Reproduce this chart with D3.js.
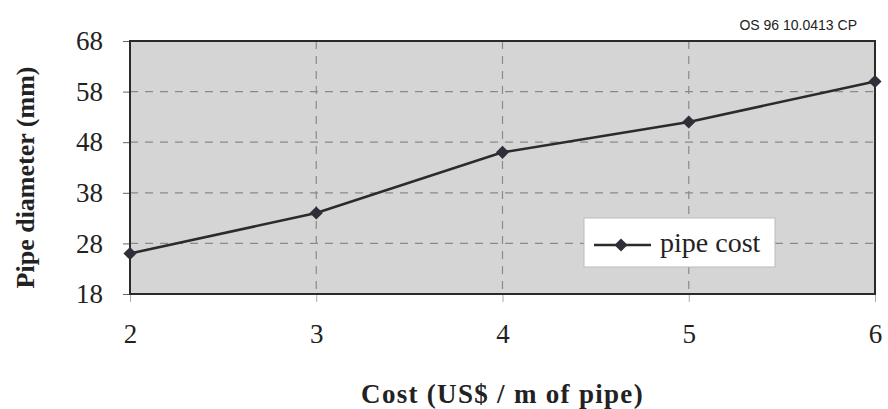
<!DOCTYPE html>
<html>
<head>
<meta charset="utf-8">
<script src="https://cdn.jsdelivr.net/npm/d3@7"></script>
<style>
body { margin: 0; background: #fff; }
</style>
</head>
<body>
<div id="chart"></div>
<script>
var cost = [2, 3, 4, 5, 6];
var diameter = [26, 34, 46, 52, 60];
var yTicks = [18, 28, 38, 48, 58, 68];
var xTicks = [2, 3, 4, 5, 6];
var seriesName = "pipe cost";

var svgwidth = 888;
var svgheight = 409;
var serif = "Liberation Serif, DejaVu Serif, serif";

var svg = d3.select("#chart")
            .append("svg")
            .attr("width", svgwidth)
            .attr("height", svgheight)
            .attr("font-family", serif);

// plot box (note: "top" is reserved on window, so use other names)
var plotL = 130, plotR = 875, plotT = 41, plotB = 294;

var xscale = d3.scaleLinear().domain([2, 6]).range([plotL, plotR]);
var yscale = d3.scaleLinear().domain([18, 68]).range([plotB, plotT]);

// plot area
svg.append("rect")
    .attr("x", plotL).attr("y", plotT)
    .attr("width", plotR - plotL).attr("height", plotB - plotT)
    .attr("fill", "#d5d5d5");

// grid lines
svg.append("g")
    .selectAll("line")
    .data(yTicks.slice(1, -1))
    .join("line")
    .attr("x1", plotL).attr("x2", plotR)
    .attr("y1", d => yscale(d)).attr("y2", d => yscale(d))
    .attr("stroke", "#8a8a8a")
    .attr("stroke-width", 1.2)
    .attr("stroke-dasharray", "8,7");

svg.append("g")
    .selectAll("line")
    .data(xTicks.slice(1, -1))
    .join("line")
    .attr("x1", d => xscale(d)).attr("x2", d => xscale(d))
    .attr("y1", plotT).attr("y2", plotB)
    .attr("stroke", "#8a8a8a")
    .attr("stroke-width", 1.2)
    .attr("stroke-dasharray", "8,7");

// axes
var yaxis = d3.axisLeft(yscale).tickValues(yTicks).tickFormat(d3.format("d"))
    .tickSize(7).tickPadding(20);
var yg = svg.append("g").attr("transform", "translate(" + plotL + ",0)").call(yaxis);
yg.attr("font-family", serif).attr("font-size", 27);
yg.select(".domain").remove();
yg.selectAll(".tick line").attr("stroke", "#666");
yg.selectAll("text").attr("fill", "#222");

var xaxis = d3.axisBottom(xscale).tickValues(xTicks).tickFormat(d3.format("d"))
    .tickSize(8).tickPadding(22);
var xg = svg.append("g").attr("transform", "translate(0," + plotB + ")").call(xaxis);
xg.attr("font-family", serif).attr("font-size", 27);
xg.select(".domain").remove();
xg.selectAll(".tick line").attr("stroke", "#aaa");
xg.selectAll("text").attr("fill", "#222");

// frame
svg.append("rect")
    .attr("x", plotL).attr("y", plotT)
    .attr("width", plotR - plotL).attr("height", plotB - plotT)
    .attr("fill", "none")
    .attr("stroke", "#2a2a2a")
    .attr("stroke-width", 2);

// series line
var line = d3.line()
    .x((d, i) => xscale(cost[i]))
    .y(d => yscale(d));

svg.append("path")
    .datum(diameter)
    .attr("d", line)
    .attr("fill", "none")
    .attr("stroke", "#2b2b2b")
    .attr("stroke-width", 2.5);

var diamond = d3.symbol().type(d3.symbolDiamond2).size(110);
svg.append("g")
    .selectAll("path")
    .data(diameter)
    .join("path")
    .attr("d", diamond)
    .attr("transform", (d, i) => "translate(" + xscale(cost[i]) + "," + yscale(d) + ")")
    .attr("fill", "#2f2f3a");

// legend
var lg = svg.append("g").attr("transform", "translate(584,218)");
lg.append("rect")
    .attr("width", 191).attr("height", 49)
    .attr("fill", "#fff")
    .attr("stroke", "#bbb");
lg.append("line")
    .attr("x1", 10).attr("x2", 67)
    .attr("y1", 27).attr("y2", 27)
    .attr("stroke", "#2b2b2b")
    .attr("stroke-width", 2.5);
lg.append("path")
    .attr("d", diamond)
    .attr("transform", "translate(37,27)")
    .attr("fill", "#2f2f3a");
lg.append("text")
    .attr("x", 76).attr("y", 34)
    .attr("font-size", 28)
    .attr("fill", "#222")
    .text(seriesName);

// titles
svg.append("text")
    .attr("transform", "translate(" + ((plotL + plotR) / 2) + "," + 403 + ")")
    .attr("text-anchor", "middle")
    .attr("font-weight", "bold")
    .attr("font-size", 27)
    .attr("letter-spacing", 1.3)
    .attr("fill", "#222")
    .text("Cost (US$ / m of pipe)");

svg.append("text")
    .attr("transform", "translate(34," + ((plotT + plotB) / 2 + 10) + ") rotate(-90)")
    .attr("text-anchor", "middle")
    .attr("font-weight", "bold")
    .attr("font-size", 26)
    .attr("fill", "#222")
    .text("Pipe diameter (mm)");

svg.append("text")
    .attr("x", 857).attr("y", 30)
    .attr("text-anchor", "end")
    .attr("font-family", "Liberation Sans, Arial, sans-serif")
    .attr("font-size", 14)
    .attr("fill", "#222")
    .text("OS 96 10.0413 CP");
</script>
</body>
</html>
